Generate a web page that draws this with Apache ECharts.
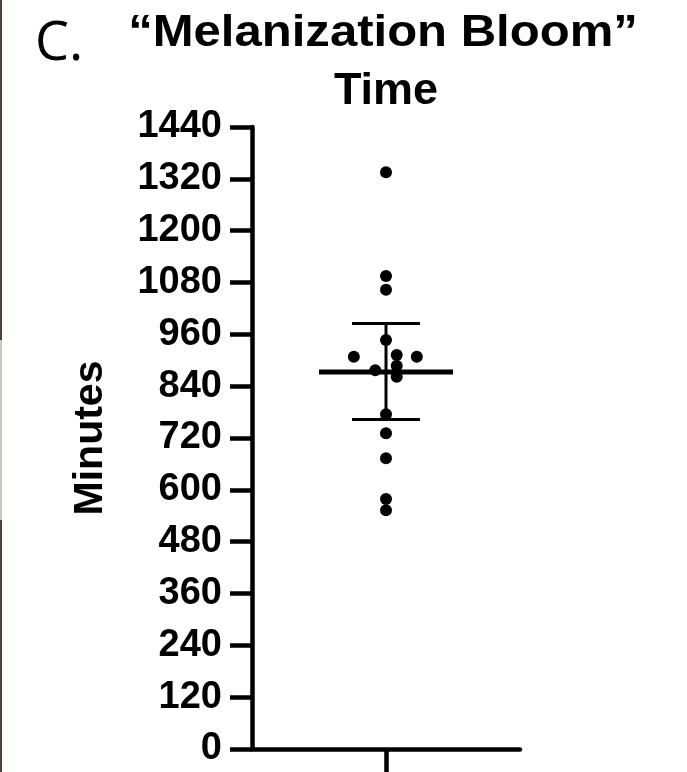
<!DOCTYPE html>
<html>
<head>
<meta charset="utf-8">
<style>
  html, body { margin: 0; padding: 0; background: #fff; }
  #chart { width: 687px; height: 772px; }
</style>
<script src="https://cdn.jsdelivr.net/npm/echarts@6/dist/echarts.min.js"></script>
</head>
<body>
<div id="chart"></div>
<script>
"use strict";

// melanization bloom time per sample, minutes
let minutes = [1335, 1095, 1063, 947, 908, 912, 908, 887, 877, 862, 775, 731, 673, 579, 553];
// horizontal swarm offset of each dot (column units, 0 = centre)
let swarmOffset = [0, 0, 0, 0, -0.24, 0.08, 0.23, 0.08, -0.08, 0.08, 0, 0, 0, 0, 0];
// summary: mean with 95% CI
let meanValue = [873];
let ciLow = [763];
let ciHigh = [985];
let yTicks = [0, 120, 240, 360, 480, 600, 720, 840, 960, 1080, 1200, 1320, 1440];

let chart = echarts.init(document.getElementById("chart"), null, { renderer: "canvas" });

let dots = minutes.map((v, i) => [swarmOffset[i], v]);
let summary = meanValue.map((m, i) => [0, m, ciLow[i], ciHigh[i]]);

function renderSummary(params, api) {
    let c = api.coord([api.value(0), api.value(1)]);
    let lo = api.coord([api.value(0), api.value(2)]);
    let hi = api.coord([api.value(0), api.value(3)]);
    let line = { stroke: "#000", lineWidth: 3 };
    return {
        type: "group",
        children: [
            { type: "line", shape: { x1: c[0], y1: lo[1], x2: c[0], y2: hi[1] }, style: line },
            { type: "line", shape: { x1: c[0] - 34, y1: lo[1], x2: c[0] + 34, y2: lo[1] }, style: line },
            { type: "line", shape: { x1: c[0] - 34, y1: hi[1], x2: c[0] + 34, y2: hi[1] }, style: line },
            { type: "line", shape: { x1: c[0] - 67, y1: c[1], x2: c[0] + 67, y2: c[1] },
              style: { stroke: "#000", lineWidth: 5 } }
        ]
    };
}

let option = {
    backgroundColor: "#fff",
    animation: false,
    grid: { left: 252, right: 167, top: 127, bottom: 23, containLabel: false },
    graphic: [
        { type: "rect", left: 0, top: 0, shape: { width: 2, height: 340 }, style: { fill: "#4a4236" } },
        { type: "rect", left: 0, top: 340, shape: { width: 2, height: 180 }, style: { fill: "#c4c8b4" } },
        { type: "rect", left: 0, top: 520, shape: { width: 2, height: 252 }, style: { fill: "#4a4236" } },
        { type: "text", x: 35, y: 45,
          style: { text: "C.", font: "normal 54px 'Open Sans', sans-serif", fill: "#000",
                   textAlign: "left", textVerticalAlign: "middle" } },
        { type: "text", x: 383, y: 34, scaleX: 1.09, originX: 0,
          style: { text: "\u201cMelanization Bloom\u201d", font: "bold 45px 'Liberation Sans', Arial, sans-serif",
                   fill: "#000", textAlign: "center", textVerticalAlign: "middle" } },
        { type: "text", x: 386, y: 92,
          style: { text: "Time", font: "bold 45px 'Liberation Sans', Arial, sans-serif",
                   fill: "#000", textAlign: "center", textVerticalAlign: "middle" } }
    ],
    xAxis: {
        type: "value",
        min: -1,
        max: 1,
        axisLine: { show: true, onZero: false, lineStyle: { color: "#000", width: 4.5 } },
        axisTick: { show: true, customValues: [0], length: 24, lineStyle: { color: "#000", width: 4.5 } },
        axisLabel: { show: false },
        splitLine: { show: false }
    },
    yAxis: {
        type: "value",
        min: 0,
        max: 1440,
        interval: 120,
        name: "Minutes",
        nameLocation: "middle",
        nameRotate: 90,
        nameGap: 141,
        nameTextStyle: { fontFamily: "'Liberation Sans', Arial, sans-serif", fontWeight: "bold",
                         fontSize: 41, color: "#000" },
        axisLine: { show: true, onZero: false, lineStyle: { color: "#000", width: 4.5 } },
        axisTick: { show: true, length: 22, lineStyle: { color: "#000", width: 4.5 } },
        axisLabel: {
            margin: 30,
            fontFamily: "'Liberation Sans', Arial, sans-serif",
            fontWeight: "bold",
            fontSize: 38,
            color: "#000",
            customValues: yTicks,
            formatter: (v) => String(v)
        },
        splitLine: { show: false }
    },
    series: [
        {
            type: "custom",
            renderItem: renderSummary,
            data: summary,
            z: 2
        },
        {
            type: "scatter",
            data: dots,
            symbol: "circle",
            symbolSize: 12,
            itemStyle: { color: "#000", opacity: 1 },
            z: 3
        }
    ]
};

chart.setOption(option);
</script>
</body>
</html>
